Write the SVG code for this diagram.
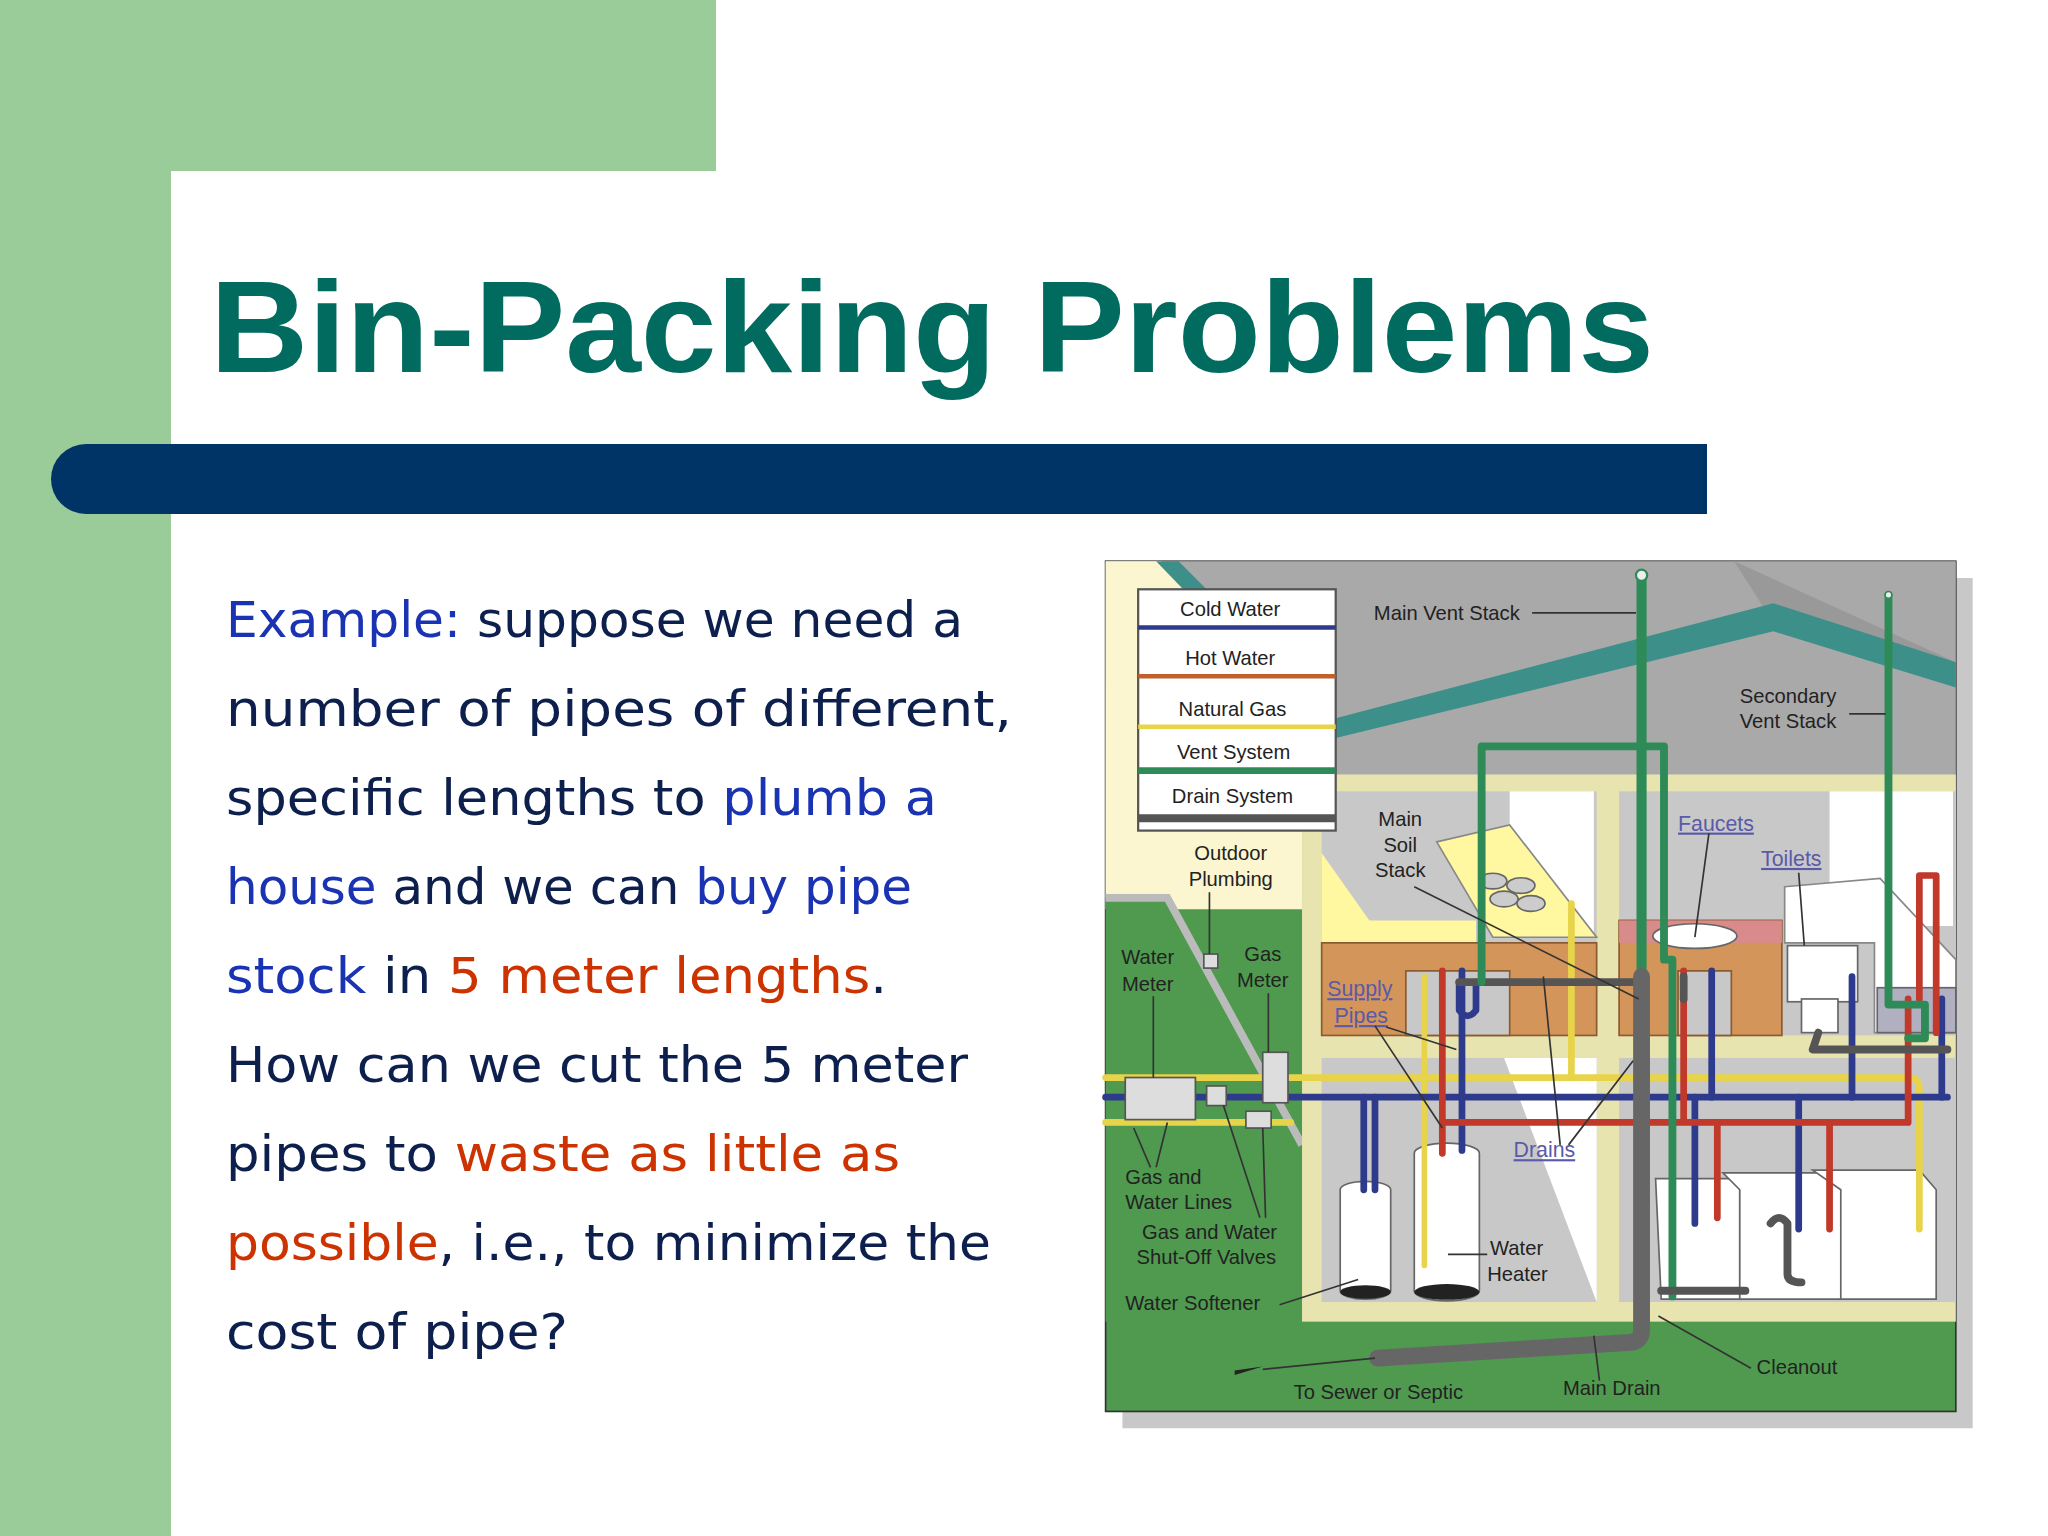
<svg xmlns="http://www.w3.org/2000/svg" width="2048" height="1536" viewBox="0 0 2048 1536">
<style>
.bt{font-family:"DejaVu Sans","Noto Sans",sans-serif;font-size:50px;fill:#0d1f4d}
.b{fill:#1a33b3}.r{fill:#cc3300}
.lb{font-family:"Liberation Sans",Arial,sans-serif;font-size:36px;fill:#222}
.lk{font-family:"Liberation Sans",Arial,sans-serif;font-size:38px;fill:#5a5aa8;text-decoration:underline}
.p{fill:none;stroke-linecap:round;stroke-linejoin:round}
.ld{stroke:#333;stroke-width:3;fill:none}
</style>
<rect width="2048" height="1536" fill="#fff"/>
<rect x="0" y="0" width="171" height="1536" fill="#99cc99"/>
<rect x="0" y="0" width="716" height="171" fill="#99cc99"/>
<path d="M171 1536 V231 Q171 171 231 171 H716 V171 H2048 V1536 Z" fill="#fff"/>
<g id="title"><text x="210" y="372" font-family="Liberation Sans,Arial,sans-serif" font-weight="bold" font-size="130" fill="#006b5e" textLength="1444" lengthAdjust="spacingAndGlyphs">Bin-Packing Problems</text></g>
<g id="bar"><path d="M86 444 H1707 V514 H86 A35 35 0 0 1 86 444 Z" fill="#003366"/></g>
<g id="body">
<text class="bt" x="226" y="637" textLength="737" lengthAdjust="spacingAndGlyphs"><tspan class="b">Example:</tspan> suppose we need a</text>
<text class="bt" x="226" y="726" textLength="786" lengthAdjust="spacingAndGlyphs">number of pipes of different,</text>
<text class="bt" x="226" y="815" textLength="711" lengthAdjust="spacingAndGlyphs">specific lengths to <tspan class="b">plumb a</tspan></text>
<text class="bt" x="226" y="904" textLength="686" lengthAdjust="spacingAndGlyphs"><tspan class="b">house</tspan> and we can <tspan class="b">buy pipe</tspan></text>
<text class="bt" x="226" y="993" textLength="661" lengthAdjust="spacingAndGlyphs"><tspan class="b">stock</tspan> in <tspan class="r">5 meter lengths</tspan>.</text>
<text class="bt" x="226" y="1082" textLength="742" lengthAdjust="spacingAndGlyphs">How can we cut the 5 meter</text>
<text class="bt" x="226" y="1171" textLength="674" lengthAdjust="spacingAndGlyphs">pipes to <tspan class="r">waste as little as</tspan></text>
<text class="bt" x="226" y="1260" textLength="765" lengthAdjust="spacingAndGlyphs"><tspan class="r">possible</tspan>, i.e., to minimize the</text>
<text class="bt" x="226" y="1349" textLength="342" lengthAdjust="spacingAndGlyphs">cost of pipe?</text>
</g>
<g id="diagram" transform="translate(1100,550) scale(0.5612)">
<rect x="40" y="50" width="1515" height="1515" fill="#c8c8c8"/>
<rect x="10" y="20" width="1515" height="1515" fill="#4f9a4f" stroke="#333" stroke-width="3"/>
<rect x="10" y="20" width="1515" height="600" fill="#a9a9a9"/>
<path d="M10 20 H110 L360 300 V640 H10 Z" fill="#fbf5d0"/>
<path d="M100 20 L140 20 L420 300 L380 310 Z" fill="#3d8f8a"/>
<path d="M1130 20 L1525 200 V240 L1200 130 Z" fill="#999"/>
<path d="M420 300 L1200 95 L1525 200 V245 L1200 145 L420 335 Z" fill="#3d8f8a"/>
<path d="M10 620 H120 L360 1060 V1375 H10 Z" fill="#4f9a4f"/>
<path d="M10 620 H120 L360 1060" fill="none" stroke="#bbb" stroke-width="14"/>
<rect x="360" y="400" width="1165" height="975" fill="#e8e4b0"/>
<rect x="395" y="430" width="490" height="435" fill="#c8c8c8"/>
<rect x="925" y="430" width="600" height="435" fill="#c8c8c8"/>
<rect x="395" y="905" width="490" height="435" fill="#c8c8c8"/>
<rect x="925" y="905" width="600" height="435" fill="#c8c8c8"/>
<rect x="730" y="430" width="150" height="260" fill="#fff"/>
<rect x="1300" y="430" width="220" height="240" fill="#fff"/>
<path d="M720 905 H885 V1340 Z" fill="#fff"/>
<path d="M395 540 L480 660 H670 V700 H395 Z" fill="#fff8a0"/>
<path d="M600 520 L730 490 L885 690 H700 Z" fill="#fff8a0" stroke="#888" stroke-width="3"/>
<g fill="#ccc" stroke="#666" stroke-width="3"><ellipse cx="700" cy="590" rx="25" ry="14"/><ellipse cx="750" cy="598" rx="25" ry="14"/><ellipse cx="720" cy="622" rx="25" ry="14"/><ellipse cx="768" cy="630" rx="25" ry="14"/></g>
<rect x="395" y="700" width="490" height="165" fill="#d4955a" stroke="#8a5a30" stroke-width="3"/>
<rect x="545" y="750" width="185" height="115" fill="#c8c8c8" stroke="#8a5a30" stroke-width="3"/>
<rect x="925" y="660" width="290" height="205" fill="#d4955a" stroke="#8a5a30" stroke-width="3"/>
<rect x="925" y="660" width="290" height="40" fill="#d98a8a"/>
<ellipse cx="1060" cy="688" rx="75" ry="22" fill="#fff" stroke="#666" stroke-width="3"/>
<rect x="1030" y="750" width="95" height="115" fill="#c8c8c8" stroke="#8a5a30" stroke-width="3"/>
<path d="M1220 600 L1390 585 L1525 730 V860 H1380 V700 L1220 700 Z" fill="#fff" stroke="#888" stroke-width="3"/>
<rect x="1225" y="705" width="125" height="100" fill="#fff" stroke="#666" stroke-width="3"/>
<rect x="1250" y="800" width="65" height="60" fill="#fff" stroke="#666" stroke-width="3"/>
<rect x="1385" y="780" width="140" height="80" fill="#b0b0c0" stroke="#666" stroke-width="3"/>
<g fill="#fff" stroke="#666" stroke-width="3">
<path d="M990 1120 H1140 V1335 H1000 Z"/>
<path d="M1110 1110 H1310 L1330 1135 V1335 H1140 V1140 Z"/>
<path d="M1270 1105 H1460 L1490 1140 V1335 H1320 V1140 Z"/>
<path d="M428 1140 A45 15 0 0 1 518 1140 V1320 A45 15 0 0 1 428 1320 Z"/>
<path d="M560 1075 A58 18 0 0 1 676 1075 V1320 A58 18 0 0 1 560 1320 Z"/>
</g>
<ellipse cx="473" cy="1322" rx="45" ry="12" fill="#222"/>
<ellipse cx="618" cy="1322" rx="58" ry="14" fill="#222"/>
<g class="p">
<path d="M10 940 H1440 Q1460 940 1460 960 V1210" stroke="#e8d44a" stroke-width="12"/>
<path d="M10 1020 H340" stroke="#e8d44a" stroke-width="12"/>
<path d="M840 940 V630" stroke="#e8d44a" stroke-width="12"/>
<path d="M578 1275 V760" stroke="#e8d44a" stroke-width="10"/>
<path d="M10 975 H1510" stroke="#2e3a8c" stroke-width="12"/>
<path d="M470 1140 V975 M490 1140 V975 M645 1070 V750 M1060 1200 V975 M1245 1210 V975 M1090 975 V750 M1340 975 V760 M1500 975 V800" stroke="#2e3a8c" stroke-width="12"/>
<path d="M610 1075 V750 M610 1020 H1440 V800 M1100 1190 V1020 M1300 1210 V1020 M1040 1020 V750 M1460 800 V580 H1490 V860" stroke="#c0392b" stroke-width="12"/>
<path d="M640 770 V820 Q655 840 670 820 V770" stroke="#2e3a8c" stroke-width="12"/>
<path d="M640 770 H960 M1280 860 L1270 890 H1510 M1040 760 V800" stroke="#555" stroke-width="14"/>
<path d="M680 770 V350 H1005 V730 H1020 V1330" stroke="#2e8b57" stroke-width="14"/>
<path d="M965 45 V1330" stroke="#2e8b57" stroke-width="18"/>
<path d="M1405 80 V810 H1470 V870 H1440" stroke="#2e8b57" stroke-width="14"/>
<path d="M965 760 V1390 Q965 1410 945 1412 L495 1440" stroke="#666" stroke-width="30"/>
<path d="M1000 1320 H1150 M1195 1200 Q1210 1180 1225 1200 V1290 Q1225 1305 1250 1305" stroke="#555" stroke-width="14"/>
</g>
<circle cx="965" cy="45" r="10" fill="#eee" stroke="#2e8b57" stroke-width="4"/>
<circle cx="1405" cy="80" r="6" fill="#eee" stroke="#2e8b57" stroke-width="3"/>
<g fill="#ddd" stroke="#555" stroke-width="3">
<rect x="45" y="940" width="125" height="75"/>
<rect x="190" y="955" width="35" height="35"/>
<rect x="260" y="1000" width="45" height="30"/>
<rect x="290" y="895" width="45" height="90"/>
<rect x="185" y="720" width="25" height="25"/>
</g>
<path d="M240 1462 L290 1455 L240 1470 Z" fill="#222"/>
<path d="M290 1460 L490 1440" stroke="#333" stroke-width="3"/>
<g id="legend">
<rect x="68" y="70" width="352" height="430" fill="#fff" stroke="#555" stroke-width="4"/>
<line x1="68" y1="138" x2="420" y2="138" stroke="#2e3a8c" stroke-width="8"/>
<line x1="68" y1="225" x2="420" y2="225" stroke="#c0602b" stroke-width="8"/>
<line x1="68" y1="315" x2="420" y2="315" stroke="#e8d44a" stroke-width="8"/>
<line x1="68" y1="393" x2="420" y2="393" stroke="#2e8b57" stroke-width="12"/>
<line x1="68" y1="478" x2="420" y2="478" stroke="#555" stroke-width="14"/>
<g class="lb" text-anchor="middle"><text x="232" y="118">Cold Water</text><text x="232" y="205">Hot Water</text><text x="236" y="295">Natural Gas</text><text x="238" y="372">Vent System</text><text x="236" y="450">Drain System</text></g>
</g>
<g class="lb">
<text x="488" y="125">Main Vent Stack</text>
<text x="1140" y="273">Secondary</text><text x="1140" y="318">Vent Stack</text>
<text x="535" y="492" text-anchor="middle">Main</text><text x="535" y="538" text-anchor="middle">Soil</text><text x="535" y="583" text-anchor="middle">Stack</text>
<text x="233" y="552" text-anchor="middle">Outdoor</text><text x="233" y="598" text-anchor="middle">Plumbing</text>
<text x="85" y="738" text-anchor="middle">Water</text><text x="85" y="785" text-anchor="middle">Meter</text>
<text x="290" y="732" text-anchor="middle">Gas</text><text x="290" y="778" text-anchor="middle">Meter</text>
<text x="45" y="1130">Gas and</text><text x="45" y="1175">Water Lines</text>
<text x="75" y="1228">Gas and Water</text><text x="65" y="1273">Shut-Off Valves</text>
<text x="45" y="1355">Water Softener</text>
<text x="695" y="1257">Water</text><text x="690" y="1302">Heater</text>
<text x="345" y="1512">To Sewer or Septic</text>
<text x="825" y="1505">Main Drain</text>
<text x="1170" y="1468">Cleanout</text>
</g>
<g class="lk">
<text x="1030" y="500">Faucets</text><text x="1178" y="563">Toilets</text>
<text x="405" y="795">Supply</text><text x="418" y="843">Pipes</text>
<text x="737" y="1082">Drains</text>
</g>
<g class="ld">
<path d="M770 112 H955 M1335 292 H1400 M560 600 L960 800 M195 610 V720 M95 795 V940 M300 790 V895 M90 1100 L60 1030 M100 1100 L120 1020 M285 1190 L220 990 M295 1190 L290 1030 M320 1345 L460 1300 M690 1255 H620 M1160 1458 L995 1365 M890 1480 L880 1400 M1085 505 L1060 690 M1245 575 L1255 705 M490 848 L610 1030 M510 850 L635 890 M835 1060 L950 910 M820 1060 L790 760"/>
</g>
</g>
</svg>
